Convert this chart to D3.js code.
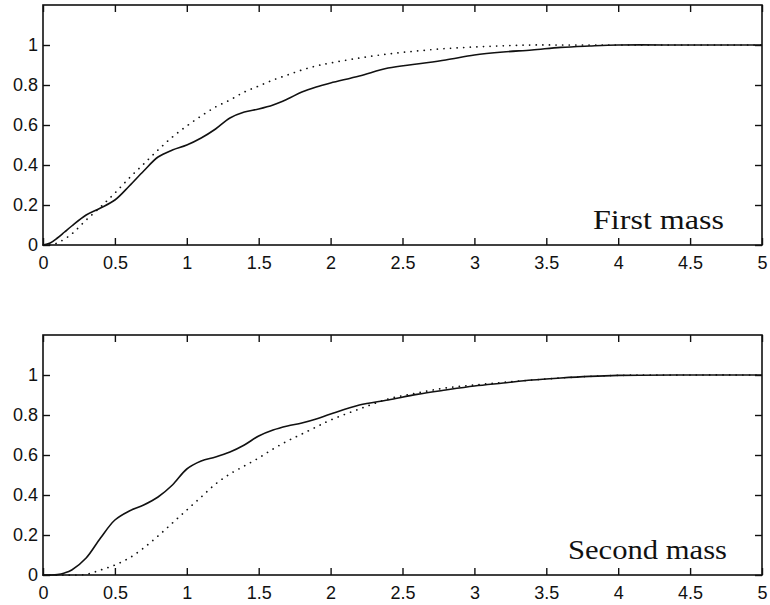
<!DOCTYPE html>
<html>
<head>
<meta charset="utf-8">
<script src="https://cdn.jsdelivr.net/npm/d3@7"></script>
<style>
  html, body { margin: 0; padding: 0; background: #fff; }
  svg { display: block; }
</style>
</head>
<body>
<svg id="chart" width="770" height="605"></svg>
<script>
// ---- data ----
const time = [0, 0.05, 0.1, 0.15, 0.2, 0.3, 0.4, 0.5, 0.6, 0.7, 0.8, 0.9, 1.0, 1.1, 1.2, 1.3, 1.4, 1.5, 1.6, 1.7, 1.8, 1.9, 2.0, 2.2, 2.4, 2.6, 2.8, 3.0, 3.2, 3.4, 3.6, 3.8, 4.0, 4.5, 5.0];

const firstSolid  = [0, 0.01, 0.035, 0.065, 0.095, 0.15, 0.185, 0.225, 0.295, 0.37, 0.44, 0.475, 0.50, 0.535, 0.58, 0.635, 0.665, 0.68, 0.70, 0.73, 0.765, 0.79, 0.81, 0.845, 0.885, 0.905, 0.925, 0.95, 0.965, 0.975, 0.988, 0.995, 1.0, 1.0, 1.0];
const firstDotted = [0, 0, 0.01, 0.03, 0.055, 0.125, 0.19, 0.26, 0.335, 0.405, 0.475, 0.54, 0.595, 0.645, 0.69, 0.725, 0.765, 0.795, 0.825, 0.85, 0.875, 0.895, 0.91, 0.935, 0.955, 0.97, 0.982, 0.99, 0.996, 1.0, 1.0, 1.0, 1.0, 1.0, 1.0];

const secondSolid  = [0, 0, 0.002, 0.01, 0.025, 0.085, 0.185, 0.275, 0.32, 0.35, 0.39, 0.45, 0.53, 0.57, 0.59, 0.615, 0.65, 0.695, 0.725, 0.745, 0.76, 0.78, 0.805, 0.85, 0.875, 0.903, 0.925, 0.945, 0.96, 0.975, 0.985, 0.993, 0.998, 1.0, 1.0];
const secondDotted = [0, 0, 0, 0, 0, 0.003, 0.025, 0.05, 0.085, 0.135, 0.195, 0.26, 0.325, 0.39, 0.455, 0.505, 0.545, 0.585, 0.63, 0.67, 0.705, 0.74, 0.775, 0.83, 0.88, 0.91, 0.935, 0.95, 0.963, 0.975, 0.985, 0.993, 0.998, 1.0, 1.0];

const xTicks = [0, 0.5, 1, 1.5, 2, 2.5, 3, 3.5, 4, 4.5, 5];
const xTickLabels = ["0", "0.5", "1", "1.5", "2", "2.5", "3", "3.5", "4", "4.5", "5"];
const yTicks = [0, 0.2, 0.4, 0.6, 0.8, 1];
const yTickLabels = ["0", "0.2", "0.4", "0.6", "0.8", "1"];
const panelTitles = ["First mass", "Second mass"];

// ---- drawing ----
const svg = d3.select("#chart");
const panels = [
  { top: 5,   bottom: 245, solid: firstSolid,  dotted: firstDotted,  title: panelTitles[0], tx: 593, tw: 131 },
  { top: 335, bottom: 575, solid: secondSolid, dotted: secondDotted, title: panelTitles[1], tx: 568, tw: 159 }
];
const left = 43, right = 762;
const tickLen = 7;
const fontSans = "'Liberation Sans', Arial, Helvetica, sans-serif";

panels.forEach(p => {
  const x = d3.scaleLinear().domain([0, 5]).range([left, right]);
  const y = d3.scaleLinear().domain([0, 1.2]).range([p.bottom, p.top]);
  const g = svg.append("g");

  const fmtX = (d) => xTickLabels[xTicks.indexOf(d)];
  const fmtY = (d) => yTickLabels[yTicks.indexOf(d)];

  g.append("g").attr("transform", `translate(0,${p.bottom})`)
    .call(d3.axisBottom(x).tickValues(xTicks).tickFormat(fmtX).tickSizeInner(-tickLen).tickSizeOuter(0).tickPadding(11));
  g.append("g").attr("transform", `translate(0,${p.top})`)
    .call(d3.axisTop(x).tickValues(xTicks).tickFormat("").tickSizeInner(-tickLen).tickSizeOuter(0));
  g.append("g").attr("transform", `translate(${left},0)`)
    .call(d3.axisLeft(y).tickValues(yTicks).tickFormat(fmtY).tickSizeInner(-tickLen).tickSizeOuter(0).tickPadding(5));
  g.append("g").attr("transform", `translate(${right},0)`)
    .call(d3.axisRight(y).tickValues(yTicks).tickFormat("").tickSizeInner(-tickLen).tickSizeOuter(0));

  g.selectAll(".domain").remove();
  g.selectAll(".tick line").attr("stroke", "#111").attr("stroke-width", 1.4);
  g.selectAll(".tick text").attr("fill", "#111").style("font-family", fontSans).style("font-size", "18px");

  g.append("rect")
    .attr("x", left).attr("y", p.top)
    .attr("width", right - left).attr("height", p.bottom - p.top)
    .attr("fill", "none").attr("stroke", "#111").attr("stroke-width", 1.6);

  const line = (vals) => d3.line()
    .x((d, i) => x(time[i]))
    .y(d => y(d))
    .curve(d3.curveCatmullRom.alpha(0.5))(vals);

  g.append("path").attr("d", line(p.dotted))
    .attr("fill", "none").attr("stroke", "#111").attr("stroke-width", 1.7)
    .attr("stroke-linecap", "round").attr("stroke-dasharray", "0.1,6.5");

  g.append("path").attr("d", line(p.solid))
    .attr("fill", "none").attr("stroke", "#111").attr("stroke-width", 1.6);

  g.append("text")
    .attr("x", p.tx).attr("y", p.bottom - 16)
    .attr("textLength", p.tw).attr("lengthAdjust", "spacingAndGlyphs")
    .style("font-family", "'Liberation Serif', 'Times New Roman', serif")
    .style("font-size", "28px").attr("fill", "#111")
    .text(p.title);
});
</script>
</body>
</html>
